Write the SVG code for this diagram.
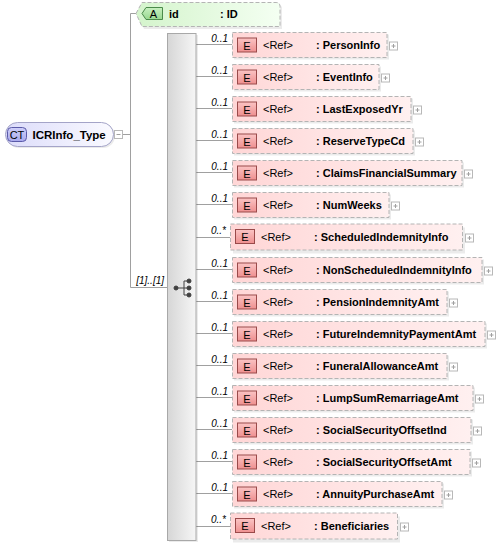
<svg xmlns="http://www.w3.org/2000/svg" width="496" height="545" viewBox="0 0 496 545">
<defs>
<linearGradient id="gEl" x1="0" y1="0" x2="1" y2="0"><stop offset="0" stop-color="#ffd6d6"/><stop offset="1" stop-color="#fff0f0"/></linearGradient>
<linearGradient id="gEb" x1="0" y1="0" x2="0" y2="1"><stop offset="0" stop-color="#fbc4c4"/><stop offset="1" stop-color="#ee8f8f"/></linearGradient>
<linearGradient id="gAt" x1="0" y1="0" x2="1" y2="0"><stop offset="0" stop-color="#d4f4cc"/><stop offset="1" stop-color="#f4fff2"/></linearGradient>
<linearGradient id="gAb" x1="0" y1="0" x2="0" y2="1"><stop offset="0" stop-color="#c8f0c0"/><stop offset="1" stop-color="#98d890"/></linearGradient>
<linearGradient id="gCt" x1="0" y1="0" x2="1" y2="0"><stop offset="0" stop-color="#dcdcfa"/><stop offset="1" stop-color="#fafaff"/></linearGradient>
<linearGradient id="gCb" x1="0" y1="0" x2="0" y2="1"><stop offset="0" stop-color="#d0d0fa"/><stop offset="1" stop-color="#a8a8ec"/></linearGradient>
<linearGradient id="gSq" x1="0" y1="0" x2="1" y2="0"><stop offset="0" stop-color="#d6d6d6"/><stop offset="1" stop-color="#f6f6f6"/></linearGradient>
</defs>
<style>
.ln{stroke:#a0a0a0;stroke-width:1;fill:none}
.sh{fill:#000;opacity:0.08}
.el{fill:url(#gEl);stroke:#b4b4b4;stroke-width:1;stroke-dasharray:4,2}
.eb{fill:url(#gEb);stroke:#9a4a4a;stroke-width:1}
.t{font-family:"Liberation Sans",Arial,sans-serif;font-size:11px;fill:#000}
.b{font-weight:bold}
.occ{font-family:"Liberation Sans",Arial,sans-serif;font-size:10px;font-style:italic;fill:#000}
.pb{fill:#fff;stroke:#b8b8b8;stroke-width:1}
.pl{stroke:#a0a0a0;stroke-width:1}
</style>

<g id="connectors">
<line class="ln" x1="123" y1="134.5" x2="130.5" y2="134.5"/>
<line class="ln" x1="130.5" y1="13.5" x2="130.5" y2="287.5"/>
<line class="ln" x1="130.5" y1="13.5" x2="136" y2="13.5"/>
<line class="ln" x1="130.5" y1="287.5" x2="167" y2="287.5"/>
<text class="occ" x="164" y="284" text-anchor="end">[1]..[1]</text>
<g id="occ-lines">
<line class="ln" x1="196" y1="44.5" x2="232" y2="44.5"/><text class="occ" x="228" y="41.5" text-anchor="end">0..1</text>
<line class="ln" x1="196" y1="76.5" x2="232" y2="76.5"/><text class="occ" x="228" y="73.5" text-anchor="end">0..1</text>
<line class="ln" x1="196" y1="108.5" x2="232" y2="108.5"/><text class="occ" x="228" y="105.5" text-anchor="end">0..1</text>
<line class="ln" x1="196" y1="140.5" x2="232" y2="140.5"/><text class="occ" x="228" y="137.5" text-anchor="end">0..1</text>
<line class="ln" x1="196" y1="172.5" x2="232" y2="172.5"/><text class="occ" x="228" y="169.5" text-anchor="end">0..1</text>
<line class="ln" x1="196" y1="204.5" x2="232" y2="204.5"/><text class="occ" x="228" y="201.5" text-anchor="end">0..1</text>
<line class="ln" x1="196" y1="237.5" x2="230" y2="237.5"/><text class="occ" x="226" y="234" text-anchor="end">0..*</text>
<line class="ln" x1="196" y1="269.5" x2="232" y2="269.5"/><text class="occ" x="228" y="266.5" text-anchor="end">0..1</text>
<line class="ln" x1="196" y1="301.5" x2="232" y2="301.5"/><text class="occ" x="228" y="298.5" text-anchor="end">0..1</text>
<line class="ln" x1="196" y1="333.5" x2="232" y2="333.5"/><text class="occ" x="228" y="330.5" text-anchor="end">0..1</text>
<line class="ln" x1="196" y1="365.5" x2="232" y2="365.5"/><text class="occ" x="228" y="362.5" text-anchor="end">0..1</text>
<line class="ln" x1="196" y1="397.5" x2="232" y2="397.5"/><text class="occ" x="228" y="394.5" text-anchor="end">0..1</text>
<line class="ln" x1="196" y1="429.5" x2="232" y2="429.5"/><text class="occ" x="228" y="426.5" text-anchor="end">0..1</text>
<line class="ln" x1="196" y1="461.5" x2="232" y2="461.5"/><text class="occ" x="228" y="458.5" text-anchor="end">0..1</text>
<line class="ln" x1="196" y1="493.5" x2="232" y2="493.5"/><text class="occ" x="228" y="490.5" text-anchor="end">0..1</text>
<line class="ln" x1="196" y1="526.5" x2="230" y2="526.5"/><text class="occ" x="226" y="523" text-anchor="end">0..*</text>
</g>
</g>

<g id="ct-ICRInfo_Type">
<rect x="7" y="124" width="108" height="24" rx="12" class="sh"/>
<rect x="5.5" y="122.5" width="108" height="24" rx="12" fill="url(#gCt)" stroke="#a4a4c8"/>
<rect x="7.5" y="127.5" width="19" height="14" rx="4" fill="url(#gCb)" stroke="#5a5aa8"/>
<text class="t" x="17" y="138.5" text-anchor="middle">CT</text>
<text class="t b" x="32.5" y="139" style="font-size:11.5px">ICRInfo_Type</text>
<rect x="114.5" y="130.5" width="8" height="8" class="pb"/>
<line class="pl" x1="116.5" y1="134.5" x2="120.5" y2="134.5"/>
</g>

<g id="attr-id">
<path d="M138 16 L144 5 L280 5 L282 7 L282 29 L144 29 L138 16 Z" class="sh"/>
<path d="M136 13.5 L142 2.5 L276 2.5 Q280 2.5 280 6.5 L280 26.5 L142 26.5 Z" fill="url(#gAt)" stroke="#b4b4b4" stroke-dasharray="4,2"/>
<path d="M142 13.5 L146 7.5 L162.5 7.5 L162.5 19.5 L146 19.5 Z" fill="url(#gAb)" stroke="#4a8a4a"/>
<text class="t" x="153.5" y="18" text-anchor="middle">A</text>
<text class="t b" x="169" y="18">id</text>
<text class="t b" x="220" y="18">: ID</text>
</g>

<g id="sequence">
<rect x="169" y="35" width="29" height="507" class="sh"/>
<rect x="167.5" y="33.5" width="28.5" height="507" fill="url(#gSq)" stroke="#a8a8a8"/>
<g stroke="#404040" stroke-width="1" fill="#404040">
<line x1="176" y1="288" x2="184" y2="288"/>
<line x1="184" y1="281" x2="184" y2="295"/>
<line x1="184" y1="281" x2="189" y2="281"/>
<line x1="184" y1="295" x2="189" y2="295"/>
<line x1="184" y1="288" x2="189" y2="288"/>
<circle cx="176" cy="288" r="2"/>
<circle cx="189" cy="281" r="2"/>
<circle cx="189" cy="288" r="2"/>
<circle cx="189" cy="295" r="2"/>
</g>
</g>

<g id="el-PersonInfo" transform="translate(0,44.5)">
<rect x="234" y="-10" width="155" height="25" class="sh"/>
<rect x="232.5" y="-12" width="154.5" height="25" class="el"/>
<rect x="237.5" y="-6.5" width="19" height="14" class="eb"/>
<text class="t" x="247" y="5" text-anchor="middle">E</text>
<text class="t" x="263" y="4.5">&lt;Ref&gt;</text>
<text class="t b" x="316" y="4.5">: PersonInfo</text>
<rect x="389.5" y="-2.5" width="8" height="8" class="pb"/>
<line class="pl" x1="391.5" y1="1.5" x2="395.5" y2="1.5"/><line class="pl" x1="393.5" y1="-0.5" x2="393.5" y2="3.5"/>
</g>

<g id="el-EventInfo" transform="translate(0,76.5)">
<rect x="234" y="-10" width="147" height="25" class="sh"/>
<rect x="232.5" y="-12" width="146.5" height="25" class="el"/>
<rect x="237.5" y="-6.5" width="19" height="14" class="eb"/>
<text class="t" x="247" y="5" text-anchor="middle">E</text>
<text class="t" x="263" y="4.5">&lt;Ref&gt;</text>
<text class="t b" x="316" y="4.5">: EventInfo</text>
<rect x="381.5" y="-2.5" width="8" height="8" class="pb"/>
<line class="pl" x1="383.5" y1="1.5" x2="387.5" y2="1.5"/><line class="pl" x1="385.5" y1="-0.5" x2="385.5" y2="3.5"/>
</g>

<g id="el-LastExposedYr" transform="translate(0,108.5)">
<rect x="234" y="-10" width="179" height="25" class="sh"/>
<rect x="232.5" y="-12" width="178.5" height="25" class="el"/>
<rect x="237.5" y="-6.5" width="19" height="14" class="eb"/>
<text class="t" x="247" y="5" text-anchor="middle">E</text>
<text class="t" x="263" y="4.5">&lt;Ref&gt;</text>
<text class="t b" x="316" y="4.5">: LastExposedYr</text>
<rect x="413.5" y="-2.5" width="8" height="8" class="pb"/>
<line class="pl" x1="415.5" y1="1.5" x2="419.5" y2="1.5"/><line class="pl" x1="417.5" y1="-0.5" x2="417.5" y2="3.5"/>
</g>

<g id="el-ReserveTypeCd" transform="translate(0,140.5)">
<rect x="234" y="-10" width="181" height="25" class="sh"/>
<rect x="232.5" y="-12" width="180.5" height="25" class="el"/>
<rect x="237.5" y="-6.5" width="19" height="14" class="eb"/>
<text class="t" x="247" y="5" text-anchor="middle">E</text>
<text class="t" x="263" y="4.5">&lt;Ref&gt;</text>
<text class="t b" x="316" y="4.5">: ReserveTypeCd</text>
<rect x="415.5" y="-2.5" width="8" height="8" class="pb"/>
<line class="pl" x1="417.5" y1="1.5" x2="421.5" y2="1.5"/><line class="pl" x1="419.5" y1="-0.5" x2="419.5" y2="3.5"/>
</g>

<g id="el-ClaimsFinancialSummary" transform="translate(0,172.5)">
<rect x="234" y="-10" width="230" height="25" class="sh"/>
<rect x="232.5" y="-12" width="229.5" height="25" class="el"/>
<rect x="237.5" y="-6.5" width="19" height="14" class="eb"/>
<text class="t" x="247" y="5" text-anchor="middle">E</text>
<text class="t" x="263" y="4.5">&lt;Ref&gt;</text>
<text class="t b" x="316" y="4.5">: ClaimsFinancialSummary</text>
<rect x="464.5" y="-2.5" width="8" height="8" class="pb"/>
<line class="pl" x1="466.5" y1="1.5" x2="470.5" y2="1.5"/><line class="pl" x1="468.5" y1="-0.5" x2="468.5" y2="3.5"/>
</g>

<g id="el-NumWeeks" transform="translate(0,204.5)">
<rect x="234" y="-10" width="157" height="25" class="sh"/>
<rect x="232.5" y="-12" width="156.5" height="25" class="el"/>
<rect x="237.5" y="-6.5" width="19" height="14" class="eb"/>
<text class="t" x="247" y="5" text-anchor="middle">E</text>
<text class="t" x="263" y="4.5">&lt;Ref&gt;</text>
<text class="t b" x="316" y="4.5">: NumWeeks</text>
<rect x="391.5" y="-2.5" width="8" height="8" class="pb"/>
<line class="pl" x1="393.5" y1="1.5" x2="397.5" y2="1.5"/><line class="pl" x1="395.5" y1="-0.5" x2="395.5" y2="3.5"/>
</g>

<g id="el-ScheduledIndemnityInfo" transform="translate(0,237.5)">
<rect x="233" y="-10" width="232" height="26" class="sh"/>
<rect x="230.5" y="-13.5" width="232" height="26" class="el"/>
<rect x="235.5" y="-8" width="19" height="14" class="eb"/>
<text class="t" x="245" y="3.5" text-anchor="middle">E</text>
<text class="t" x="261" y="3">&lt;Ref&gt;</text>
<text class="t b" x="314" y="3">: ScheduledIndemnityInfo</text>
<rect x="465.5" y="-3.5" width="8" height="8" class="pb"/>
<line class="pl" x1="467.5" y1="0.5" x2="471.5" y2="0.5"/><line class="pl" x1="469.5" y1="-1.5" x2="469.5" y2="2.5"/>
</g>

<g id="el-NonScheduledIndemnityInfo" transform="translate(0,269.5)">
<rect x="234" y="-10" width="250" height="25" class="sh"/>
<rect x="232.5" y="-12" width="249.5" height="25" class="el"/>
<rect x="237.5" y="-6.5" width="19" height="14" class="eb"/>
<text class="t" x="247" y="5" text-anchor="middle">E</text>
<text class="t" x="263" y="4.5">&lt;Ref&gt;</text>
<text class="t b" x="316" y="4.5">: NonScheduledIndemnityInfo</text>
<rect x="484.5" y="-2.5" width="8" height="8" class="pb"/>
<line class="pl" x1="486.5" y1="1.5" x2="490.5" y2="1.5"/><line class="pl" x1="488.5" y1="-0.5" x2="488.5" y2="3.5"/>
</g>

<g id="el-PensionIndemnityAmt" transform="translate(0,301.5)">
<rect x="234" y="-10" width="215" height="25" class="sh"/>
<rect x="232.5" y="-12" width="214.5" height="25" class="el"/>
<rect x="237.5" y="-6.5" width="19" height="14" class="eb"/>
<text class="t" x="247" y="5" text-anchor="middle">E</text>
<text class="t" x="263" y="4.5">&lt;Ref&gt;</text>
<text class="t b" x="316" y="4.5">: PensionIndemnityAmt</text>
<rect x="449.5" y="-2.5" width="8" height="8" class="pb"/>
<line class="pl" x1="451.5" y1="1.5" x2="455.5" y2="1.5"/><line class="pl" x1="453.5" y1="-0.5" x2="453.5" y2="3.5"/>
</g>

<g id="el-FutureIndemnityPaymentAmt" transform="translate(0,333.5)">
<rect x="234" y="-10" width="253" height="25" class="sh"/>
<rect x="232.5" y="-12" width="252.5" height="25" class="el"/>
<rect x="237.5" y="-6.5" width="19" height="14" class="eb"/>
<text class="t" x="247" y="5" text-anchor="middle">E</text>
<text class="t" x="263" y="4.5">&lt;Ref&gt;</text>
<text class="t b" x="316" y="4.5">: FutureIndemnityPaymentAmt</text>
<rect x="487.5" y="-2.5" width="8" height="8" class="pb"/>
<line class="pl" x1="489.5" y1="1.5" x2="493.5" y2="1.5"/><line class="pl" x1="491.5" y1="-0.5" x2="491.5" y2="3.5"/>
</g>

<g id="el-FuneralAllowanceAmt" transform="translate(0,365.5)">
<rect x="234" y="-10" width="215" height="25" class="sh"/>
<rect x="232.5" y="-12" width="214.5" height="25" class="el"/>
<rect x="237.5" y="-6.5" width="19" height="14" class="eb"/>
<text class="t" x="247" y="5" text-anchor="middle">E</text>
<text class="t" x="263" y="4.5">&lt;Ref&gt;</text>
<text class="t b" x="316" y="4.5">: FuneralAllowanceAmt</text>
<rect x="449.5" y="-2.5" width="8" height="8" class="pb"/>
<line class="pl" x1="451.5" y1="1.5" x2="455.5" y2="1.5"/><line class="pl" x1="453.5" y1="-0.5" x2="453.5" y2="3.5"/>
</g>

<g id="el-LumpSumRemarriageAmt" transform="translate(0,397.5)">
<rect x="234" y="-10" width="241" height="25" class="sh"/>
<rect x="232.5" y="-12" width="240.5" height="25" class="el"/>
<rect x="237.5" y="-6.5" width="19" height="14" class="eb"/>
<text class="t" x="247" y="5" text-anchor="middle">E</text>
<text class="t" x="263" y="4.5">&lt;Ref&gt;</text>
<text class="t b" x="316" y="4.5">: LumpSumRemarriageAmt</text>
<rect x="475.5" y="-2.5" width="8" height="8" class="pb"/>
<line class="pl" x1="477.5" y1="1.5" x2="481.5" y2="1.5"/><line class="pl" x1="479.5" y1="-0.5" x2="479.5" y2="3.5"/>
</g>

<g id="el-SocialSecurityOffsetInd" transform="translate(0,429.5)">
<rect x="234" y="-10" width="239" height="25" class="sh"/>
<rect x="232.5" y="-12" width="238.5" height="25" class="el"/>
<rect x="237.5" y="-6.5" width="19" height="14" class="eb"/>
<text class="t" x="247" y="5" text-anchor="middle">E</text>
<text class="t" x="263" y="4.5">&lt;Ref&gt;</text>
<text class="t b" x="316" y="4.5">: SocialSecurityOffsetInd</text>
<rect x="473.5" y="-2.5" width="8" height="8" class="pb"/>
<line class="pl" x1="475.5" y1="1.5" x2="479.5" y2="1.5"/><line class="pl" x1="477.5" y1="-0.5" x2="477.5" y2="3.5"/>
</g>

<g id="el-SocialSecurityOffsetAmt" transform="translate(0,461.5)">
<rect x="234" y="-10" width="238" height="25" class="sh"/>
<rect x="232.5" y="-12" width="237.5" height="25" class="el"/>
<rect x="237.5" y="-6.5" width="19" height="14" class="eb"/>
<text class="t" x="247" y="5" text-anchor="middle">E</text>
<text class="t" x="263" y="4.5">&lt;Ref&gt;</text>
<text class="t b" x="316" y="4.5">: SocialSecurityOffsetAmt</text>
<rect x="472.5" y="-2.5" width="8" height="8" class="pb"/>
<line class="pl" x1="474.5" y1="1.5" x2="478.5" y2="1.5"/><line class="pl" x1="476.5" y1="-0.5" x2="476.5" y2="3.5"/>
</g>

<g id="el-AnnuityPurchaseAmt" transform="translate(0,493.5)">
<rect x="234" y="-10" width="210" height="25" class="sh"/>
<rect x="232.5" y="-12" width="209.5" height="25" class="el"/>
<rect x="237.5" y="-6.5" width="19" height="14" class="eb"/>
<text class="t" x="247" y="5" text-anchor="middle">E</text>
<text class="t" x="263" y="4.5">&lt;Ref&gt;</text>
<text class="t b" x="316" y="4.5">: AnnuityPurchaseAmt</text>
<rect x="444.5" y="-2.5" width="8" height="8" class="pb"/>
<line class="pl" x1="446.5" y1="1.5" x2="450.5" y2="1.5"/><line class="pl" x1="448.5" y1="-0.5" x2="448.5" y2="3.5"/>
</g>

<g id="el-Beneficiaries" transform="translate(0,526.5)">
<rect x="233" y="-10" width="167" height="26" class="sh"/>
<rect x="230.5" y="-13.5" width="167" height="26" class="el"/>
<rect x="235.5" y="-8" width="19" height="14" class="eb"/>
<text class="t" x="245" y="3.5" text-anchor="middle">E</text>
<text class="t" x="261" y="3">&lt;Ref&gt;</text>
<text class="t b" x="314" y="3">: Beneficiaries</text>
<rect x="400.5" y="-3.5" width="8" height="8" class="pb"/>
<line class="pl" x1="402.5" y1="0.5" x2="406.5" y2="0.5"/><line class="pl" x1="404.5" y1="-1.5" x2="404.5" y2="2.5"/>
</g>
</svg>
